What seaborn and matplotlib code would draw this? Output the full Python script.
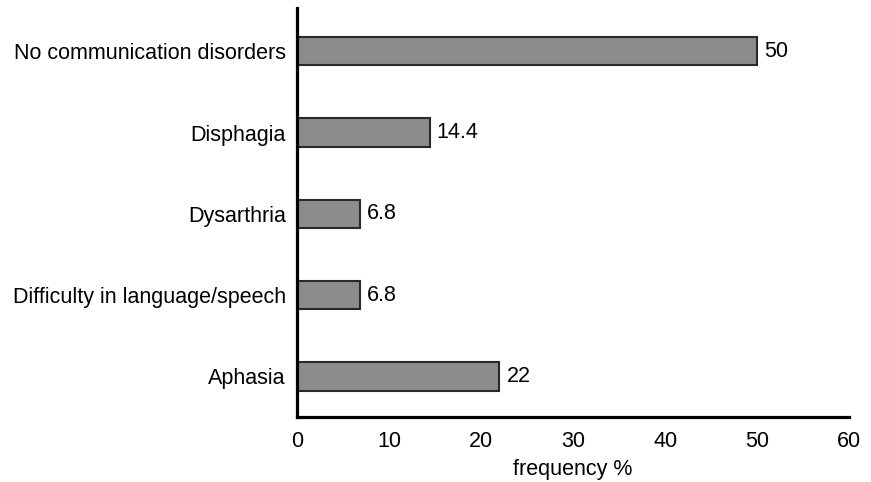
import matplotlib
matplotlib.use("Agg")
import matplotlib.pyplot as plt
import seaborn as sns
import pandas as pd

categories = ["No communication disorders", "Disphagia", "Dysarthria",
              "Difficulty in language/speech", "Aphasia"]
values = [50, 14.4, 6.8, 6.8, 22]
value_labels = ["50", "14.4", "6.8", "6.8", "22"]

sns.set_style("white")
plt.rcParams['font.family'] = ['Liberation Sans', 'DejaVu Sans']

df = pd.DataFrame({"category": categories, "value": values})

fig = plt.figure(figsize=(8.71, 4.82), dpi=100)
ax = fig.add_axes([0.341, 0.135, 0.634, 0.848])

sns.barplot(data=df, y="category", x="value", orient="h", ax=ax,
            color="#8c8c8c", edgecolor="#2a2a2a", linewidth=1.5,
            width=0.35, saturation=1)

ax.bar_label(ax.containers[0], labels=value_labels, padding=5,
             fontsize=15.5, color="black")

ax.set_xlim(0, 60)
ax.set_ylim(4.5, -0.53)
ax.set_xticks([0, 10, 20, 30, 40, 50, 60])
ax.tick_params(axis="both", length=0, labelsize=15.5, colors="black")
ax.tick_params(axis="x", pad=10)
ax.tick_params(axis="y", pad=8)
ax.set_ylabel("")
ax.set_xlabel("frequency %", fontsize=15.5, labelpad=5, color="black")

for s in ["top", "right"]:
    ax.spines[s].set_visible(False)
for s in ["left", "bottom"]:
    ax.spines[s].set_linewidth(2.3)
    ax.spines[s].set_color("black")

fig.savefig("out.png", dpi=100)
